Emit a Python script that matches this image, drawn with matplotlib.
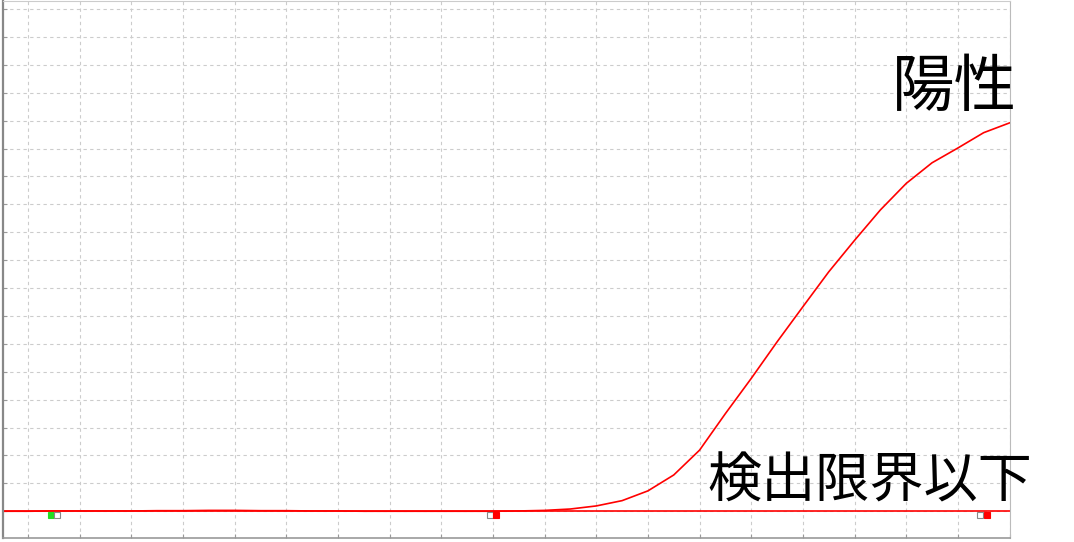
import matplotlib
matplotlib.use("Agg")
import matplotlib.pyplot as plt
import numpy as np

plt.rcParams['font.family'] = ['Noto Sans CJK JP', 'DejaVu Sans']

# amplification curve (cycle vs. fluorescence, baseline subtracted)
cycles = list(range(1, 41))
fluorescence = [0.0, 0.0, 0.01, 0.01, 0.01, 0.01, 0.02, 0.02, 0.03, 0.03,
                0.02, 0.02, 0.01, 0.01, 0.0, 0.0, 0.0, 0.0, 0.0, 0.0,
                0.01, 0.03, 0.08, 0.19, 0.38, 0.73, 1.30, 2.19, 3.50, 4.76,
                6.07, 7.33, 8.58, 9.71, 10.8, 11.75, 12.49, 13.02, 13.57, 13.92]
threshold = 0.0

# range markers: (cycle, left colour, right colour)
marker_cycles = [3, 20, 39]
marker_left = ['#22dd22', 'white', 'white']
marker_right = ['white', '#ff0000', '#ff0000']

label_positive = '陽性'
label_negative = '検出限界以下'

fig = plt.figure(figsize=(10.74, 5.42), dpi=100)
ax = fig.add_axes([3 / 1074, 3.7 / 542, 1006.5 / 1074, 537.3 / 542])

ax.set_xlim(1.03, 40.0)
ax.set_ylim(-0.97, 18.29)
ax.set_xticks(np.arange(2, 41, 2))
ax.set_yticks(np.arange(0, 19, 1))
ax.tick_params(direction='in', length=3, color='#999999',
               labelbottom=False, labelleft=False)
ax.grid(True, color='#cccccc', linestyle=(0, (3, 3)), linewidth=0.8)
ax.set_axisbelow(True)

ax.spines['left'].set_color('#888888')
ax.spines['left'].set_linewidth(1.6)
ax.spines['bottom'].set_color('#999999')
ax.spines['bottom'].set_linewidth(1.2)
ax.spines['top'].set_color('#cccccc')
ax.spines['right'].set_color('#bbbbbb')

ax.axhline(threshold, color='#ff0000', linewidth=1.2)
ax.plot(cycles, fluorescence, color='#ff0000', linewidth=1.2)

for c, lc, rc in zip(marker_cycles, marker_left, marker_right):
    for off, col in ((-0.13, lc), (0.13, rc)):
        edge = '#888888' if col == 'white' else col
        ax.plot([c + off], [-0.14], marker='s', markersize=4.8,
                markerfacecolor=col, markeredgecolor=edge,
                markeredgewidth=0.8, linestyle='none', clip_on=False)

ax.text(37.85, 15.17, label_positive, fontsize=45, ha='center', va='center')
ax.text(34.58, 1.05, label_negative, fontsize=39, ha='center', va='center')

fig.savefig('out.png', dpi=100)
